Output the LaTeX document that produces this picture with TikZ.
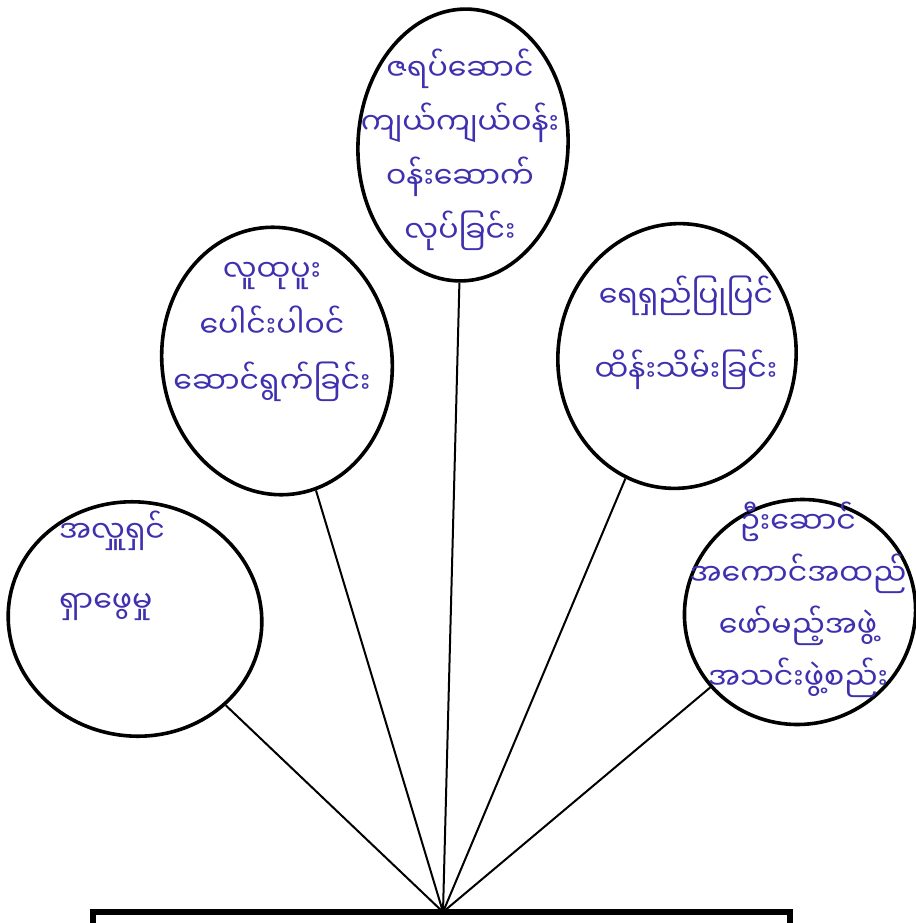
\documentclass[tikz,border=0pt]{standalone}
\usepackage{fontspec}
\newfontfamily\mmfont[Script=Myanmar]{Noto Sans Myanmar UI}
\usetikzlibrary{shapes.geometric}
\definecolor{handblue}{RGB}{62,48,175}
\tikzset{
  bubble/.style={draw=black, line width=3.6pt, ellipse, inner sep=0pt},
  handtext/.style={text=handblue, font=\mmfont\fontsize{30}{54}\selectfont, align=center, inner sep=0pt},
  stem/.style={draw=black, line width=2pt},
  bar/.style={draw=black, line width=6pt}
}
\begin{document}
\begin{tikzpicture}[x=1pt, y=-1pt]
\useasboundingbox (0,0) rectangle (915,923);
\fill[white] (0,0) rectangle (915,923);
% ellipses
\node[bubble, minimum width=210pt, minimum height=272pt, rotate=-3] (top) at (463,145) {};
\node[bubble, minimum width=230pt, minimum height=268pt, rotate=7] (midL) at (277,361) {};
\node[bubble, minimum width=238pt, minimum height=265pt, rotate=-6] (midR) at (677,356) {};
\node[bubble, minimum width=254pt, minimum height=234pt, rotate=-8] (botL) at (135,619) {};
\node[bubble, minimum width=232pt, minimum height=224pt, rotate=20] (botR) at (800,612) {};
% texts
\node[handtext] (ttop) at (460,150) {ဇရပ်ဆောင်\\ကျယ်ကျယ်ဝန်း\\ဝန်းဆောက်\\လုပ်ခြင်း};
\node[handtext, font=\mmfont\fontsize{30}{56}\selectfont] (tmidL) at (272,332) {လူထုပူး\\ပေါင်းပါဝင်\\ဆောင်ရွက်ခြင်း};
\node[handtext, font=\mmfont\fontsize{30}{74}\selectfont] (tmidR) at (686,333) {ရေရှည်ပြုပြင်\\ထိန်းသိမ်းခြင်း};
\node[handtext, align=left, font=\mmfont\fontsize{30}{70}\selectfont] (tbotL) at (112,566) {အလှူရှင်\\ရှာဖွေမှု};
\node[handtext, font=\mmfont\fontsize{30}{52}\selectfont] (tbotR) at (798,600) {ဦးဆောင်\\အကောင်အထည်\\ဖော်မည့်အဖွဲ့\\အသင်းဖွဲ့စည်း};
% base
\coordinate (apex) at (443,912);
\coordinate (barL) at (93,912);
\coordinate (barR) at (790,912);
\coordinate (barLd) at (93,930);
\coordinate (barRd) at (790,930);
\draw[bar] (barLd) -- (barL) -- (barR) -- (barRd);
% connectors
\draw[stem] (top) -- (apex);
\draw[stem] (midL) -- (apex);
\draw[stem] (midR) -- (apex);
\draw[stem] (botL) -- (apex);
\draw[stem] (botR) -- (apex);
\end{tikzpicture}
\end{document}
